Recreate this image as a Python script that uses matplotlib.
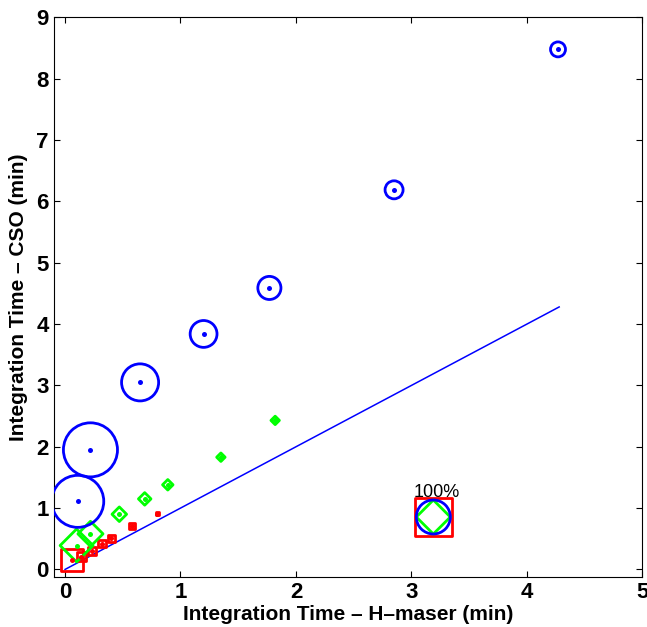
import matplotlib
matplotlib.use("Agg")
import matplotlib.pyplot as plt

# Integration time CSO vs H-maser (min); marker size = relative value (100% reference)
blue_x = [0.11, 0.22, 0.65, 1.20, 1.77, 2.85, 4.27]
blue_y = [1.11, 1.95, 3.05, 3.84, 4.59, 6.19, 8.48]
blue_pct = [153, 159, 109, 79, 68, 53, 44]

green_x = [0.10, 0.22, 0.47, 0.69, 0.89, 1.35, 1.82]
green_y = [0.39, 0.58, 0.90, 1.15, 1.38, 1.83, 2.43]
green_pct = [97, 74, 43, 37, 31, 25, 25]

red_x = [0.06, 0.14, 0.23, 0.32, 0.40, 0.58, 0.80]
red_y = [0.15, 0.21, 0.30, 0.42, 0.51, 0.71, 0.91]
red_pct = [66, 26, 24, 22, 20, 17, 8]

# equal-time line
line_x = [0, 4.28]
line_y = [0, 4.28]

# 100% size reference
ref_x, ref_y = 3.19, 0.855
ref_label = "100%"

x_ticks = [0, 1, 2, 3, 4, 5]
y_ticks = list(range(10))

DPI = 100
REF_PX = 34  # marker width in pixels at 100%


def marker_area(pct, marker):
    # convert percent to scatter area (points^2)
    ms = REF_PX * pct / 100 * 72 / DPI
    if marker == "D":
        ms = ms / 1.414
    return ms ** 2


def draw_series(ax, x, y, pct, marker, color):
    sizes = [marker_area(p, marker) for p in pct]
    ax.scatter(x, y, s=sizes, marker=marker, facecolors="none",
               edgecolors=color, linewidths=2, zorder=3)
    ax.scatter(x, y, s=3.6 ** 2, marker="o", color=color, linewidths=0, zorder=4)


fig = plt.figure(figsize=(6.47, 6.27), dpi=DPI)
ax = fig.add_axes([0.0827, 0.0791, 0.910, 0.893])

ax.plot(line_x, line_y, color="#0000FF", linewidth=1.1)

draw_series(ax, red_x, red_y, red_pct, "s", "#FF0000")
draw_series(ax, green_x, green_y, green_pct, "D", "#00FF00")
draw_series(ax, blue_x, blue_y, blue_pct, "o", "#0000FF")

# size legend
ax.scatter([ref_x], [ref_y], s=marker_area(110, "s"), marker="s", facecolors="none",
           edgecolors="#FF0000", linewidths=2, zorder=3)
ax.scatter([ref_x], [ref_y], s=marker_area(100, "D"), marker="D", facecolors="none",
           edgecolors="#00FF00", linewidths=2, zorder=3)
ax.scatter([ref_x], [ref_y], s=marker_area(100, "o"), marker="o", facecolors="none",
           edgecolors="#0000FF", linewidths=2, zorder=3)
ax.text(ref_x + 0.03, ref_y + 0.33, ref_label, ha="center", va="baseline", fontsize=13,
        family="Liberation Sans")

ax.set_xlim(-0.1, 5)
ax.set_ylim(-0.13, 9)
ax.set_xticks(x_ticks)
ax.set_yticks(y_ticks)
ax.tick_params(direction="in", length=4, width=0.8, top=True, right=True, labelsize=16)
for lbl in ax.get_xticklabels() + ax.get_yticklabels():
    lbl.set_fontweight("bold")
    lbl.set_family("Liberation Sans")

ax.set_xlabel("Integration Time \u2013 H\u2013maser (min)", fontsize=15, fontweight="bold",
              family="Liberation Sans", labelpad=1)
ax.set_ylabel("Integration Time \u2013 CSO (min)", fontsize=15, fontweight="bold",
              family="Liberation Sans", labelpad=6)

fig.savefig("out.png", dpi=DPI)
